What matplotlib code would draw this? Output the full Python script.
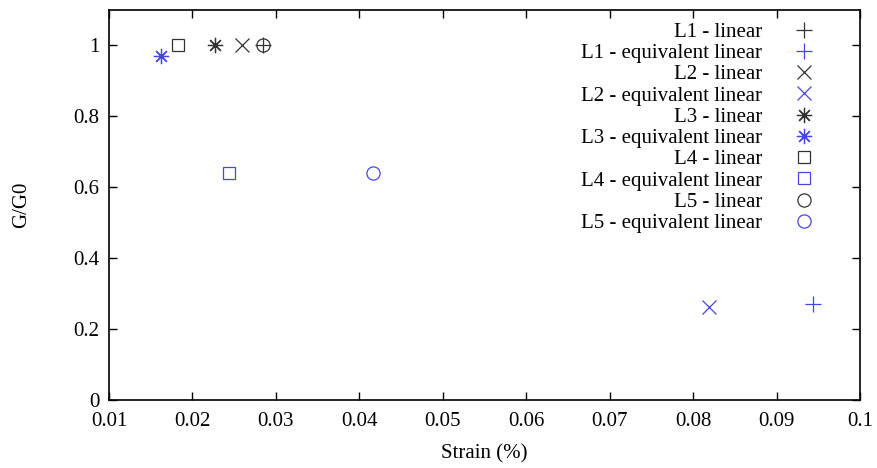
import matplotlib
matplotlib.use('Agg')
import matplotlib.pyplot as plt
from matplotlib.ticker import FuncFormatter

plt.rcParams['font.family'] = ['Liberation Serif', 'DejaVu Serif']

labels = ['L1 - linear', 'L1 - equivalent linear',
          'L2 - linear', 'L2 - equivalent linear',
          'L3 - linear', 'L3 - equivalent linear',
          'L4 - linear', 'L4 - equivalent linear',
          'L5 - linear', 'L5 - equivalent linear']
strain = [0.0285, 0.0944, 0.0259, 0.0819, 0.0227, 0.0162, 0.0183, 0.0244, 0.0285, 0.0416]
ratio = [1.0, 0.27, 1.0, 0.263, 1.0, 0.97, 1.0, 0.64, 1.0, 0.64]

black = '#333333'
blue = '#4646e6'
colors = [black, blue] * 5
markers = ['+', '+', 'x', 'x', (8, 2, 0), (8, 2, 0), 's', 's', 'o', 'o']
sizes = [11, 11, 10, 10, 11, 11, 9, 9, 9.5, 9.5]

fig = plt.figure(figsize=(8.77, 4.68), dpi=100)
ax = fig.add_axes([109 / 877, 1 - 400 / 468, 751 / 877, 390 / 468])

for i in range(len(labels)):
    ax.plot(strain[i], ratio[i], linestyle='none', marker=markers[i],
            markersize=sizes[i], markeredgecolor=colors[i], markerfacecolor='none',
            markeredgewidth=0.9, label=labels[i])

ax.set_xlim(0.01, 0.1)
ax.set_ylim(0, 1.1)
ax.set_xticks([0.01, 0.02, 0.03, 0.04, 0.05, 0.06, 0.07, 0.08, 0.09, 0.1])
ax.set_yticks([0, 0.2, 0.4, 0.6, 0.8, 1.0])
ax.xaxis.set_major_formatter(FuncFormatter(lambda v, p: '%g' % round(v, 3)))
ax.yaxis.set_major_formatter(FuncFormatter(lambda v, p: '%g' % round(v, 2)))
ax.tick_params(direction='in', length=6, width=1, top=True, right=True,
               labelsize=15, colors='black')
ax.tick_params(axis='x', pad=9)
ax.tick_params(axis='y', pad=7)
for s in ax.spines.values():
    s.set_linewidth(1.2)

ax.set_xlabel('Strain (%)', fontsize=15, labelpad=9)
ax.set_ylabel('G/G0', fontsize=15, labelpad=30)

leg = ax.legend(loc='upper right', markerfirst=False, frameon=False, fontsize=15,
                labelspacing=0.08, handletextpad=1.0, borderaxespad=0.0,
                bbox_to_anchor=(0.964, 0.99))

fig.savefig('out.png', dpi=100)
